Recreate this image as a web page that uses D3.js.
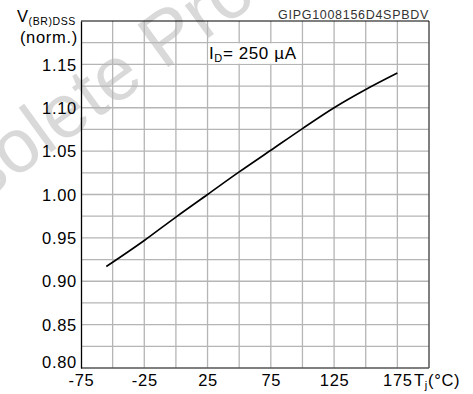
<!DOCTYPE html>
<html>
<head>
<meta charset="utf-8">
<script src="https://cdn.jsdelivr.net/npm/d3@7"></script>
<style>
  html, body { margin: 0; padding: 0; background: #fff; }
  svg { display: block; font-family: "Liberation Sans", Arial, Helvetica, sans-serif; }
</style>
</head>
<body>
<svg id="chart" width="473" height="394"></svg>
<script>
// Normalized breakdown voltage vs junction temperature
const tempC = [-55, -25, 0, 25, 50, 75, 100, 125, 150, 175];
const vbrNorm = [0.917, 0.947, 0.974, 1.000, 1.026, 1.051, 1.076, 1.100, 1.121, 1.140];

const xTickLabels = [-75, -25, 25, 75, 125, 175];
const xGridValues = [-50, -25, 0, 25, 50, 75, 100, 125, 150, 175];
const yTickLabels = [0.80, 0.85, 0.90, 0.95, 1.00, 1.05, 1.10, 1.15];
const yGridValues = [0.825, 0.85, 0.875, 0.90, 0.925, 0.95, 0.975, 1.00, 1.025, 1.05, 1.075, 1.10, 1.125, 1.15, 1.175];

const svg = d3.select("#chart");
const plotLeft = 81, plotRight = 429, plotTop = 21, plotBottom = 368;

const x = d3.scaleLinear().domain([-75, 200]).range([plotLeft, plotRight]);
const y = d3.scaleLinear().domain([0.80, 1.20]).range([plotBottom, plotTop]);

// Watermark
svg.append("text")
  .attr("transform", "translate(-100,262) rotate(-36)")
  .attr("font-size", 76)
  .attr("fill", "#d9d9d9")
  .text("Obsolete Product(s)");

// Grid
const grid = svg.append("g").attr("stroke", "#b5b5b5").attr("stroke-width", 1.3);
grid.selectAll("line.v").data(xGridValues).join("line")
  .attr("class", "v")
  .attr("x1", d => x(d)).attr("x2", d => x(d))
  .attr("y1", plotTop).attr("y2", plotBottom);
grid.selectAll("line.h").data(yGridValues).join("line")
  .attr("class", "h")
  .attr("x1", plotLeft).attr("x2", plotRight)
  .attr("y1", d => y(d)).attr("y2", d => y(d));

// Condition label in its own cell
svg.append("rect")
  .attr("x", x(25) + 0.7).attr("y", y(1.175) + 0.7)
  .attr("width", x(100) - x(25) - 1.4).attr("height", y(1.15) - y(1.175) - 1.4)
  .attr("fill", "#fff");
const cond = svg.append("text")
  .attr("x", x(25) + 1.5).attr("y", 58.5)
  .attr("font-size", 17).attr("letter-spacing", 0.6).attr("fill", "#000");
cond.append("tspan").text("I");
cond.append("tspan").attr("font-size", 11).attr("dy", 3).text("D");
cond.append("tspan").attr("dy", -3).text("= 250 µA");

// Frame
svg.append("line").attr("x1", plotRight).attr("x2", plotRight).attr("y1", plotTop).attr("y2", plotBottom)
  .attr("stroke", "#555").attr("stroke-width", 1.5);
svg.append("line").attr("x1", plotLeft).attr("x2", plotRight).attr("y1", plotBottom).attr("y2", plotBottom)
  .attr("stroke", "#555").attr("stroke-width", 1.5);
svg.append("line").attr("x1", plotLeft).attr("x2", plotRight).attr("y1", plotTop).attr("y2", plotTop)
  .attr("stroke", "#000").attr("stroke-width", 1.2);

// Axes (labels only)
const yAxis = svg.append("g")
  .attr("transform", `translate(${plotLeft},0)`)
  .call(d3.axisLeft(y).tickValues(yTickLabels).tickSize(0).tickPadding(4).tickFormat(d3.format(".2f")));
yAxis.select(".domain").attr("stroke", "#000").attr("stroke-width", 1.3);
yAxis.selectAll("text")
  .attr("font-size", 16.5).attr("letter-spacing", 0.7).attr("fill", "#000")
  .attr("font-family", "Liberation Sans, Arial, sans-serif")
  .attr("dy", d => d === 0.80 ? "-0.02em" : "0.34em");

const xAxis = svg.append("g")
  .attr("transform", `translate(0,${plotBottom})`)
  .call(d3.axisBottom(x).tickValues(xTickLabels).tickSize(0).tickPadding(6).tickFormat(d => String(d)));
xAxis.select(".domain").remove();
xAxis.selectAll("text")
  .attr("font-size", 16.5).attr("letter-spacing", 0.7).attr("fill", "#000")
  .attr("font-family", "Liberation Sans, Arial, sans-serif");

// Axis titles
const xt = svg.append("text").attr("x", 414).attr("y", 385.5)
  .attr("font-size", 16.5).attr("letter-spacing", 0.7).attr("fill", "#000");
xt.append("tspan").text("T");
xt.append("tspan").attr("font-size", 11).attr("dy", 3.5).text("j");
xt.append("tspan").attr("dy", -3.5).text("(°C)");

const yt = svg.append("text").attr("x", 17).attr("y", 22)
  .attr("font-size", 16.5).attr("letter-spacing", 0.6).attr("fill", "#000");
yt.append("tspan").text("V");
yt.append("tspan").attr("font-size", 10.5).attr("dy", 2.5).text("(BR)DSS");

svg.append("text").attr("x", 78).attr("y", 43).attr("text-anchor", "end")
  .attr("font-size", 16.5).attr("letter-spacing", 0.7).attr("fill", "#000")
  .text("(norm.)");

// Document code
svg.append("text").attr("x", 429).attr("y", 19).attr("text-anchor", "end")
  .attr("font-size", 12.5).attr("letter-spacing", 0.7).attr("fill", "#333")
  .text("GIPG1008156D4SPBDV");

// Curve
const line = d3.line().x((d, i) => x(tempC[i])).y(d => y(d)).curve(d3.curveMonotoneX);
svg.append("path")
  .datum(vbrNorm)
  .attr("d", line)
  .attr("fill", "none").attr("stroke", "#000").attr("stroke-width", 1.6);
</script>
</body>
</html>
